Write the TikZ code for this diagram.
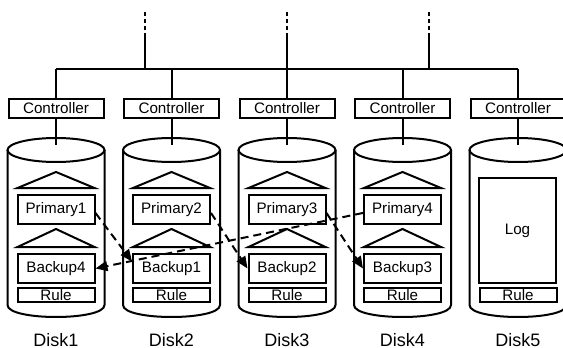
\documentclass[tikz,border=0pt]{standalone}
\usepackage{fontspec}
\setmainfont{Liberation Sans}
\usetikzlibrary{arrows.meta}

\tikzstyle{wire} = [draw, line width=1pt]
\tikzstyle{ctrlbox} = [draw, line width=1pt, minimum width=47.5pt, minimum height=9.5pt, inner sep=0pt]
\tikzstyle{slot} = [draw, line width=1pt, minimum width=38.5pt, minimum height=14.5pt, inner sep=0pt]
\tikzstyle{rulebox} = [draw, line width=1pt, minimum width=38.5pt, minimum height=7pt, inner sep=0pt]
\tikzstyle{copy} = [draw, line width=1pt, dash pattern=on 4pt off 2.5pt, -{Triangle[length=6pt,width=5pt]}]

\begin{document}
\begin{tikzpicture}[x=0.5pt, y=-0.5pt, font=\fontsize{7.6pt}{9pt}\selectfont]
    \useasboundingbox (0,0) rectangle (563,348);

    % the disks with their controllers
    \foreach \i/\cx in {1/56, 2/171.5, 3/287, 4/402.5, 5/518} {
      \path[wire] (\cx,150) ellipse [x radius=48.5, y radius=12];
      \path[wire] (\cx-48.5,150) -- (\cx-48.5,305) .. controls (\cx-48.5,321) and (\cx+48.5,321) .. (\cx+48.5,305) -- (\cx+48.5,150);
      \node[ctrlbox] (ctrl\i) at (\cx,108.5) {Controller};
      \coordinate (bus\i) at (\cx,69);
      \coordinate (lid\i) at (\cx,145);
      \path[wire] (bus\i) -- (ctrl\i) (ctrl\i) -- (lid\i);
      \node[rulebox] (rule\i) at (\cx,295) {Rule};
      \node[font=\fontsize{9pt}{11pt}\selectfont] (disk\i) at (\cx,340) {Disk\i};
    }

    % primary and backup areas
    \foreach \i/\b/\cx in {1/4/56, 2/1/171.5, 3/2/287, 4/3/402.5} {
      \path[wire] (\cx-38.5,188) -- (\cx,172) -- (\cx+38.5,188) -- cycle;
      \path[wire] (\cx-38.5,247) -- (\cx,229) -- (\cx+38.5,247) -- cycle;
      \node[slot] (prim\i) at (\cx,209.5) {Primary\i};
      \node[slot] (back\b) at (\cx,268.5) {Backup\b};
    }
    \node[slot, minimum height=52.5pt] (log) at (517.5,230.5) {Log};

    % the bus and its links upwards
    \path[wire] (bus1) -- (bus5);
    \foreach \n/\ux in {1/145, 2/287, 3/429} {
      \coordinate (tap\n) at (\ux,69);
      \coordinate (up\n) at (\ux,37);
      \coordinate (far\n) at (\ux,12);
      \path[wire] (tap\n) -- (up\n);
      \path[wire, dash pattern=on 2pt off 1.5pt] (up\n) -- (far\n);
    }

    % where each primary is copied to
    \path[copy] (prim1.-5) -- (back1.170);
    \path[copy] (prim2.-5) -- (back2.west);
    \path[copy] (prim3.-5) -- (back3.west);
    \path[copy] (prim4.185) -- (back4.east);
\end{tikzpicture}
\end{document}
